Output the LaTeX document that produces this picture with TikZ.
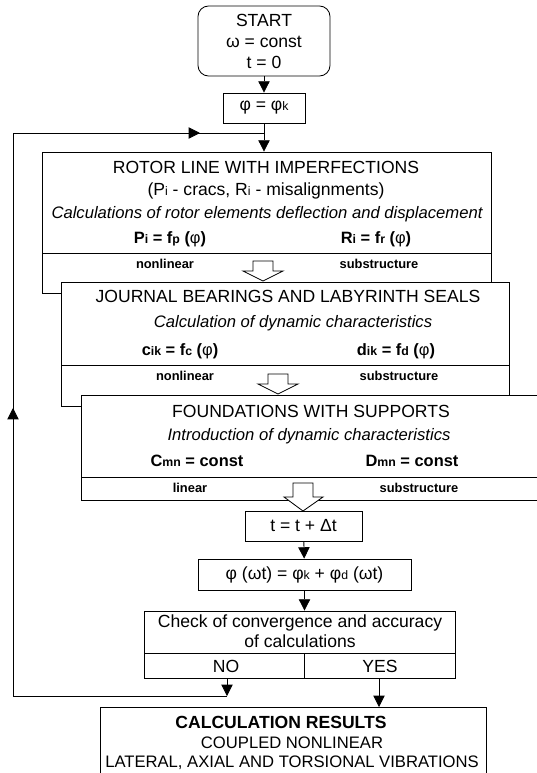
\documentclass[tikz,border=0pt]{standalone}
\usepackage{fontspec}
\setmainfont{Liberation Sans}
\usetikzlibrary{arrows.meta,fit}
\newcommand{\lo}[1]{{\fontsize{10.5}{10}\selectfont #1}}
\newcommand{\phin}{{\mdseries φ}}

\begin{document}
\begin{tikzpicture}[x=0.03cm,y=-0.03cm,font=\fontsize{15}{17.9}\selectfont,line width=0.7pt,
  box/.style={draw,fill=white,inner sep=0pt},
  arr/.style={-{Triangle[length=3.4mm,width=3.4mm]}},
  lbl/.style={anchor=base,inner sep=0pt},
  calc/.style={anchor=base,inner sep=0pt,font=\fontsize{14.2}{17}\selectfont\itshape},
  form/.style={anchor=base,inner sep=0pt,font=\fontsize{14}{17}\selectfont\bfseries},
  tag/.style={anchor=base,inner sep=0pt,font=\fontsize{11}{13}\selectfont\bfseries},
  hollow/.style={draw,fill=white,line join=miter}]
  \useasboundingbox (0,0) rectangle (537,773);

  % start and initial angle
  \node[box,rounded corners=9pt,align=center,minimum width=3.96cm,minimum height=2.1cm] (start) at (264,41) {START\\ω = const\\t = 0};
  \node[box,minimum width=2.46cm,minimum height=0.9cm] (phik) at (264,108) {φ = φ\lo{k}};

  % rotor line
  \node[box,fit={(42,152) (491,293)}] (rotor) {};
  \draw (42,253) -- (491,253);
  \node[lbl] (rotortitle) at (266,173) {ROTOR LINE WITH IMPERFECTIONS};
  \node[lbl] (rotorimp) at (266,195) {(P\lo{i} - cracs, R\lo{i} - misalignments)};
  \node[calc] (rotorcalc) at (267,218) {Calculations of rotor elements deflection and displacement};
  \node[form] (rotorp) at (170,243) {P\lo{i} = f\lo{p} (\phin)};
  \node[form] (rotorr) at (376,243) {R\lo{i} = f\lo{r} (\phin)};
  \node[tag] (rotornl) at (165,268) {nonlinear};
  \node[tag] (rotorsub) at (379,268) {substructure};
  \draw[hollow] (253,261) -- (273,261) -- (273,271) -- (283,271) -- (263,281) -- (243,271) -- (253,271) -- cycle;

  % bearings and seals
  \node[box,fit={(61,282) (509,406)}] (bear) {};
  \draw (61,365) -- (509,365);
  \node[lbl] (beartitle) at (288,302) {JOURNAL BEARINGS AND LABYRINTH SEALS};
  \node[calc] (bearcalc) at (293,327) {Calculation of dynamic characteristics};
  \node[form] (bearc) at (180,355) {c\lo{ik} = f\lo{c} (\phin)};
  \node[form] (beard) at (396,355) {d\lo{ik} = f\lo{d} (\phin)};
  \node[tag] (bearnl) at (185,380) {nonlinear};
  \node[tag] (bearsub) at (399,380) {substructure};
  \draw[hollow] (268,374) -- (288,374) -- (288,384) -- (298,384) -- (278,394) -- (258,384) -- (268,384) -- cycle;

  % foundations
  \node[box,fit={(81,395) (545,500)}] (found) {};
  \draw (81,477) -- (545,477);
  \node[lbl] (foundtitle) at (311,417) {FOUNDATIONS WITH SUPPORTS};
  \node[calc] (foundcalc) at (309,440) {Introduction of dynamic characteristics};
  \node[form] (foundc) at (197,466) {C\lo{mn} = const};
  \node[form] (foundd) at (412,466) {D\lo{mn} = const};
  \node[tag] (foundl) at (190,492) {linear};
  \node[tag] (foundsub) at (419,492) {substructure};
  \draw[hollow] (293,483) -- (313,483) -- (313,497) -- (323,497) -- (303,511) -- (284,497) -- (293,497) -- cycle;

  % time step and angle
  \node[box,minimum width=3.51cm,minimum height=0.9cm] (tstep) at (303.5,526) {t = t + Δt};
  \node[box,minimum width=6.39cm,minimum height=0.93cm] (phiwt) at (304.5,574.5) {φ (ωt) = φ\lo{k} + φ\lo{d} (ωt)};

  % convergence check
  \node[box,fit={(144,611) (455,678)}] (check) {};
  \draw (144,653) -- (455,653) (304,653) -- (304,678);
  \node[lbl] (checka) at (300,627) {Check of convergence and accuracy};
  \node[lbl] (checkb) at (300,647) {of calculations};
  \node[lbl] (no) at (226,672) {NO};
  \node[lbl] (yes) at (380,672) {YES};

  % results
  \node[box,fit={(100,707) (486,795)}] (res) {};
  \node[lbl,font=\fontsize{15}{17}\selectfont\bfseries] (resa) at (281,728) {CALCULATION RESULTS};
  \node[lbl,font=\fontsize{14.2}{17}\selectfont] (resb) at (292,748) {COUPLED NONLINEAR};
  \node[lbl,font=\fontsize{14.2}{17}\selectfont] (resc) at (292,767) {LATERAL, AXIAL AND TORSIONAL VIBRATIONS};

  % connectors
  \coordinate (merge) at (264,133);
  \coordinate (nobot) at (227,696);
  \coordinate (loopbl) at (13,696);
  \coordinate (looptl) at (13,133);
  \draw[arr] (start) -- (phik);
  \draw[arr] (phik.south) -- (phik.south |- rotor.north);
  \draw[arr] (tstep) -- (phiwt);
  \draw[arr] (phiwt.south) -- (phiwt.south |- check.north);
  \draw[arr] (379,678) -- (379,707);
  \draw[arr] (227,678) -- (nobot);
  \draw (nobot) -- (loopbl) -- (looptl) -- (merge);
  \draw[arr] (loopbl) -- (13,408);
  \draw[arr] (looptl) -- (200,133);
\end{tikzpicture}
\end{document}
